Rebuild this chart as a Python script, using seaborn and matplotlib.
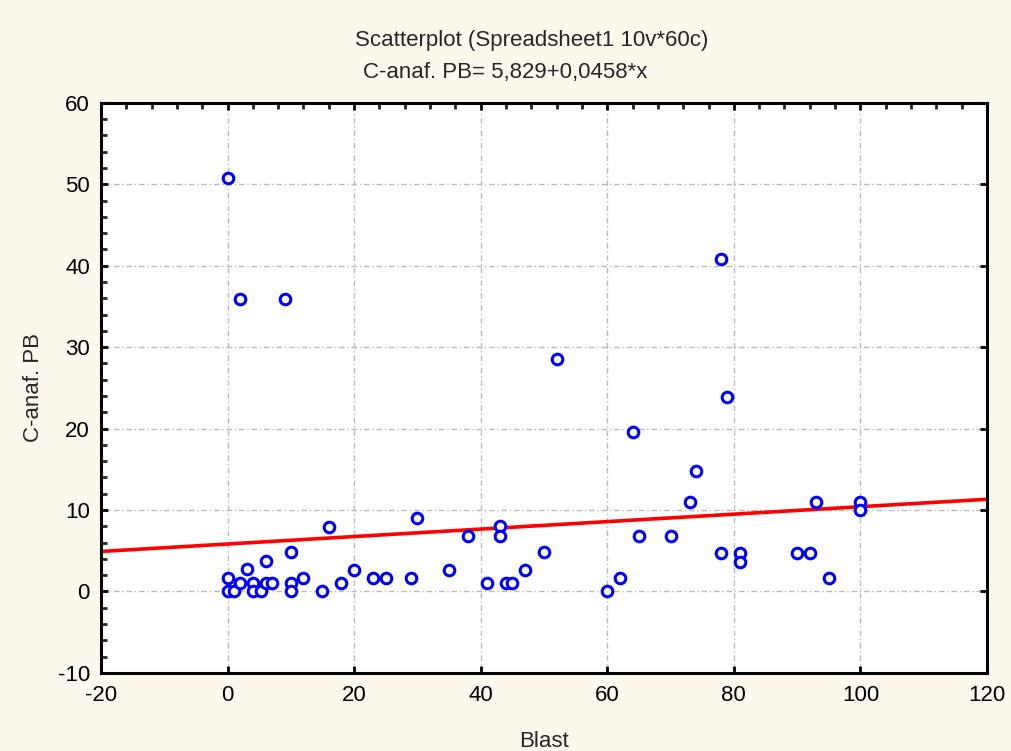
import matplotlib
matplotlib.use("Agg")
import matplotlib.pyplot as plt
from matplotlib.ticker import MultipleLocator
import seaborn as sns
import numpy as np
import pandas as pd

# ---- data ----
blast = [0, 0, 1, 2, 3, 4, 4, 5.3, 6, 7, 6, 10, 10, 10, 12, 15, 16, 18, 20, 23,
         25, 29, 30, 35, 38, 41, 43, 43, 44, 45, 47, 50, 0, 2, 9, 52, 78, 79, 64, 74,
         73, 65, 70, 78, 81, 81, 90, 92, 93, 100, 100, 95, 62, 60]
canaf_pb = [1.7, 0, 0, 1, 2.7, 1, 0, 0, 1, 1, 3.7, 4.8, 1, 0, 1.6, 0, 7.9, 1, 2.6, 1.6,
            1.6, 1.6, 9, 2.6, 6.8, 1, 8, 6.8, 1, 1, 2.6, 4.8, 50.8, 35.9, 35.9, 28.6, 40.8, 23.9, 19.6, 14.8,
            11, 6.8, 6.8, 4.7, 4.7, 3.6, 4.7, 4.7, 11, 11, 10, 1.6, 1.6, 0]
intercept = 5.829
slope = 0.0458
x_range = [-20, 120]
y_range = [-10, 60]
x_ticks = [-20, 0, 20, 40, 60, 80, 100, 120]
y_ticks = [-10, 0, 10, 20, 30, 40, 50, 60]
title_lines = ["Scatterplot (Spreadsheet1 10v*60c)", "C-anaf. PB= 5,829+0,0458*x"]

df = pd.DataFrame({"Blast": blast, "C-anaf. PB": canaf_pb})
line_x = np.array(x_range, dtype=float)
line_df = pd.DataFrame({"x": line_x, "y": intercept + slope * line_x})

sns.set_style("white")
plt.rcParams["font.family"] = ["Liberation Sans", "DejaVu Sans"]
plt.rcParams["axes.unicode_minus"] = False

bg = "#FDF8EE"
fig = plt.figure(figsize=(10.11, 7.51), dpi=100, facecolor=bg)
ax = fig.add_axes([0.0999, 0.104, 0.8763, 0.759])
ax.set_facecolor("white")

sns.lineplot(data=line_df, x="x", y="y", color="#FF0000", linewidth=2.6, ax=ax, zorder=2)
sns.scatterplot(data=df, x="Blast", y="C-anaf. PB", marker="o", s=58,
                facecolor="white", edgecolor="#0000FF", linewidth=2.2, ax=ax, zorder=3)

ax.set_xlim(*x_range)
ax.set_ylim(*y_range)
ax.set_xticks(x_ticks)
ax.set_yticks(y_ticks)
ax.xaxis.set_minor_locator(MultipleLocator(4))
ax.yaxis.set_minor_locator(MultipleLocator(2))

ax.grid(True, which="major", color="#BBBBBB", linestyle=(0, (4, 2, 1, 2)), linewidth=1.0)
ax.set_axisbelow(True)

for sp in ax.spines.values():
    sp.set_visible(True)
    sp.set_color("black")
    sp.set_linewidth(2.2)

ax.tick_params(axis="both", which="major", direction="in", length=5, width=2,
               labelsize=16, colors="black")
ax.tick_params(axis="x", which="major", top=True, bottom=True, pad=9)
ax.tick_params(axis="y", which="major", left=True, right=True, pad=8)
ax.tick_params(axis="x", which="minor", direction="in", length=4, width=2, top=True, bottom=False)
ax.tick_params(axis="y", which="minor", direction="in", length=4, width=2, left=True, right=False)

ax.set_xlabel("Blast", fontsize=16, labelpad=18)
ax.set_ylabel("C-anaf. PB", fontsize=16, labelpad=10)

fig.text(0.526, 0.946, title_lines[0], ha="center", va="center", fontsize=16)
fig.text(0.500, 0.903, title_lines[1], ha="center", va="center", fontsize=16)

fig.savefig("out.png", dpi=100, facecolor=bg)
